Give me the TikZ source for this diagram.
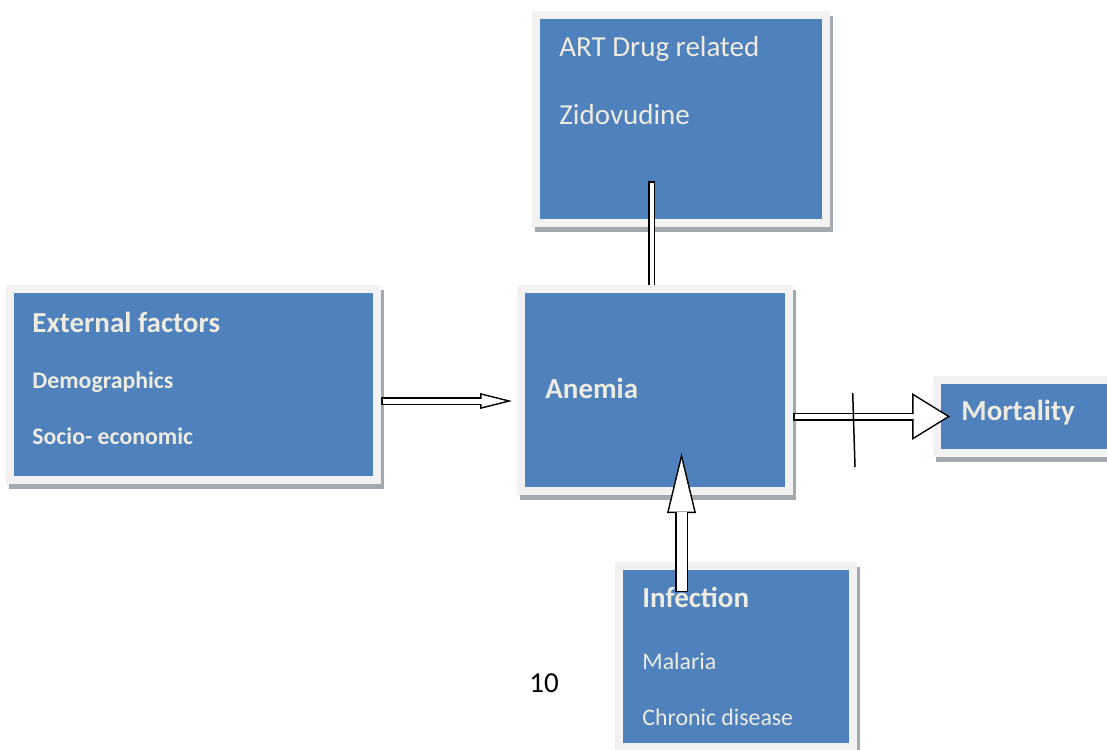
\documentclass[tikz,border=0pt]{standalone}
\usepackage{fontspec}
\setmainfont{Carlito}
\usetikzlibrary{arrows.meta,positioning,calc}
\definecolor{panelblue}{HTML}{4F81BD}
\definecolor{panelrim}{HTML}{F2F2F2}
\definecolor{panelshade}{HTML}{A3A9B1}
\definecolor{paneltext}{HTML}{EEECE1}

\begin{document}
\begin{tikzpicture}[x=0.5pt,y=-0.5pt,
  panel/.style={fill=panelblue,draw=panelrim,line width=4pt,inner sep=0pt,outer sep=2pt,
    preaction={draw=panelshade,transform canvas={shift={(1.5pt,-2.5pt)}}}},
  big/.style={anchor=base west,inner sep=0pt,text=paneltext,font=\fontsize{14.5pt}{17pt}\selectfont},
  small/.style={big,font=\fontsize{11.9pt}{14pt}\selectfont},
  hollow/.style n args={6}{draw=black,line width=#1,-{Triangle[length=#2,width=#3,line width=0pt]},
    postaction={draw=white,line width=#1-1.5pt,-{Triangle[length=#4,width=#5,line width=0pt]},shorten >=#6,shorten <=0.75pt}},
  stemline/.style={draw=black,line width=3.5pt,postaction={draw=white,line width=2pt,shorten <=0.75pt}}]
  \useasboundingbox (0,0) rectangle (1107,749);
  \clip (0,0) rectangle (1107,749);
  % panels
  \node[panel,minimum width=145pt,minimum height=104pt] (art) at (681,119) {};
  \node[panel,minimum width=183.5pt,minimum height=95.5pt] (ext) at (193.5,384.5) {};
  \node[panel,minimum width=134pt,minimum height=101pt] (anemia) at (655,390) {};
  \node[panel,minimum width=97pt,minimum height=36.5pt] (mort) at (1034,416.5) {};
  \node[panel,minimum width=117pt,minimum height=90.5pt] (inf) at (736,656.5) {};
  % texts
  \node[big] (artA) at (559,57) {ART Drug related};
  \node[big] (artB) at (559,125) {Zidovudine};
  \node[big] (extA) at (32,332) {\textbf{External factors}};
  \node[small] (extB) at (32,388) {\textbf{Demographics}};
  \node[small] (extC) at (32,444) {\textbf{Socio- economic}};
  \node[big] (anemiaA) at (545,398) {\textbf{Anemia}};
  \node[big] (mortA) at (961,420) {\textbf{Mortality}};
  \node[big] (infA) at (642,607) {\textbf{Infection}};
  \node[small] (infB) at (642,669) {Malaria};
  \node[small] (infC) at (642,725) {Chronic disease};
  \node[big,text=black] (page) at (529,692) {10};
  % connectors
  \draw[stemline] ([xshift=-14.75pt,yshift=23pt]art.south) -- ([xshift=-1.75pt]anemia.north);
  \draw[hollow={4pt}{16pt}{8pt}{12.16pt}{6.08pt}{3.09pt}] ([yshift=-8.25pt]ext.east) -- ([xshift=-2.5pt,yshift=-5.5pt]anemia.west);
  \draw[hollow={4pt}{19pt}{23.5pt}{16.82pt}{20.8pt}{1.43pt}] (anemia.east |- mort.west) -- ([xshift=8.5pt]mort.west);
  \draw[hollow={6.5pt}{30pt}{14.5pt}{26.06pt}{12.6pt}{3.19pt}] ([xshift=-27.25pt,yshift=-15pt]inf.north) -- ([xshift=13.25pt,yshift=21pt]anemia.south);
  \draw[line width=0.75pt] ([shift={(29.85pt,-1.5pt)}]anemia.east) -- ([shift={(31pt,-38.5pt)}]anemia.east);
\end{tikzpicture}
\end{document}
